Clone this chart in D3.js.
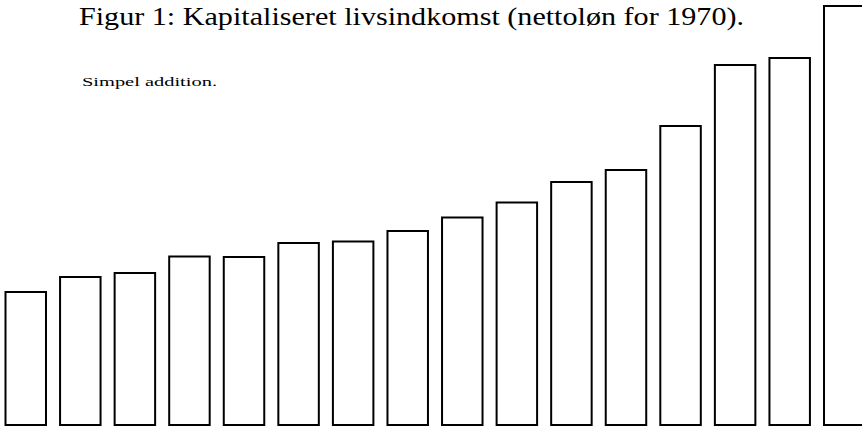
<!DOCTYPE html>
<html>
<head>
<meta charset="utf-8">
<script src="https://cdn.jsdelivr.net/npm/d3@7"></script>
<style>
  html, body { margin: 0; padding: 0; background: #fff; }
  svg { display: block; }
</style>
</head>
<body>
<script>
const titleText = "Figur 1: Kapitaliseret livsindkomst (nettoløn for 1970).";
const subtitleText = "Simpel addition.";
const categories = ["1","2","3","4","5","6","7","8","9","10","11","12","13","14","15","16"];
const values = [133, 148, 152, 168.5, 168, 182, 183.5, 194, 207.5, 222.5, 243, 255, 299, 360, 367, 419];

const W = 862, H = 428;
const svg = d3.select("body").append("svg").attr("width", W).attr("height", H);

const x = d3.scaleBand().domain(categories).range([5.5, 864.5]).paddingInner(0.258).paddingOuter(0);
const y = d3.scaleLinear().domain([0, 419]).range([425, 6]);

svg.append("g").selectAll("rect").data(values).join("rect")
  .attr("x", (d, i) => x(categories[i]))
  .attr("y", d => y(d))
  .attr("width", x.bandwidth())
  .attr("height", d => y(0) - y(d))
  .attr("fill", "#fff")
  .attr("stroke", "#000")
  .attr("stroke-width", 2);

svg.append("text")
  .attr("x", 79).attr("y", 25)
  .attr("font-family", "Liberation Serif, serif")
  .attr("font-size", 25)
  .attr("fill", "#000")
  .attr("textLength", 665)
  .attr("lengthAdjust", "spacingAndGlyphs")
  .text(titleText);

svg.append("text")
  .attr("x", 82).attr("y", 86)
  .attr("font-family", "Liberation Serif, serif")
  .attr("font-size", 13.5)
  .attr("fill", "#000")
  .attr("textLength", 135)
  .attr("lengthAdjust", "spacingAndGlyphs")
  .text(subtitleText);
</script>
</body>
</html>
